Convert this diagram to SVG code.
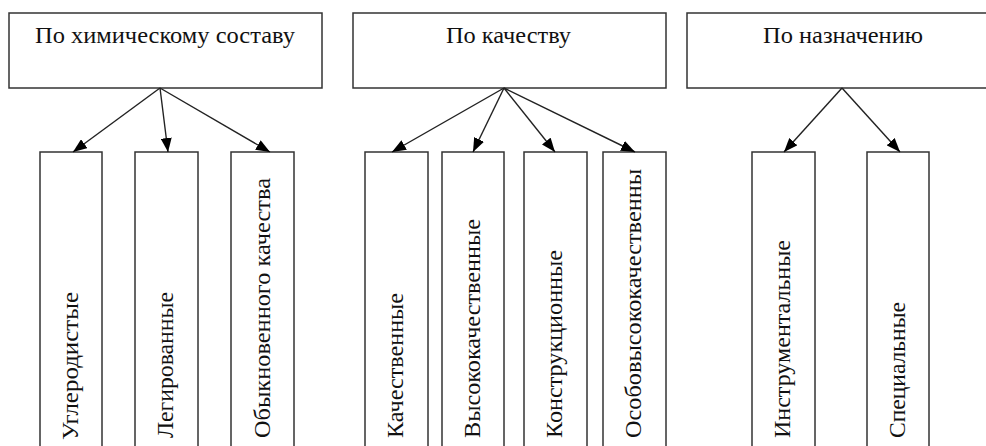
<svg xmlns="http://www.w3.org/2000/svg" width="986" height="446" viewBox="0 0 986 446">
<defs>
<style>
.box{fill:#fff;stroke:#333;stroke-width:1.5}
.t{font-family:"Liberation Serif","Times New Roman",serif;font-size:24px;fill:#111}
.c{stroke:#222;stroke-width:1.4;fill:none;marker-end:url(#ah)}
</style>
<marker id="ah" viewBox="0 0 14 11" refX="14" refY="5.5" markerWidth="14" markerHeight="11" markerUnits="userSpaceOnUse" orient="auto">
<path d="M0,0 L14,5.5 L0,11 z" fill="#000"/>
</marker>
</defs>
<rect width="986" height="446" fill="#fff"/>
<g id="n1"><rect class="box" x="9" y="13" width="313" height="75"/><text class="t" x="35" y="43" textLength="260" lengthAdjust="spacingAndGlyphs">По химическому составу</text></g>
<g id="n2"><rect class="box" x="353" y="13" width="313" height="75"/><text class="t" x="446" y="43" textLength="125" lengthAdjust="spacingAndGlyphs">По качеству</text></g>
<g id="n3"><rect class="box" x="687" y="13" width="312" height="75"/><text class="t" x="763" y="43" textLength="160" lengthAdjust="spacingAndGlyphs">По назначению</text></g>

<g id="c1"><rect class="box" x="40" y="152" width="62" height="300"/><text class="t" transform="translate(78,440) rotate(-90)" textLength="148" lengthAdjust="spacingAndGlyphs">Углеродистые</text></g>
<g id="c2"><rect class="box" x="135" y="152" width="63" height="300"/><text class="t" transform="translate(173,438) rotate(-90)" textLength="146" lengthAdjust="spacingAndGlyphs">Легированные</text></g>
<g id="c3"><rect class="box" x="231" y="152" width="63" height="300"/><text class="t" transform="translate(270,438) rotate(-90)" textLength="260" lengthAdjust="spacingAndGlyphs">Обыкновенного качества</text></g>
<g id="c4"><rect class="box" x="365" y="152" width="63" height="300"/><text class="t" transform="translate(403,438) rotate(-90)" textLength="145" lengthAdjust="spacingAndGlyphs">Качественные</text></g>
<g id="c5"><rect class="box" x="442" y="152" width="62" height="300"/><text class="t" transform="translate(480,438) rotate(-90)" textLength="219" lengthAdjust="spacingAndGlyphs">Высококачественные</text></g>
<g id="c6"><rect class="box" x="524" y="152" width="63" height="300"/><text class="t" transform="translate(562,438) rotate(-90)" textLength="188" lengthAdjust="spacingAndGlyphs">Конструкционные</text></g>
<g id="c7"><rect class="box" x="603" y="152" width="63" height="300"/><text class="t" transform="translate(641,438) rotate(-90)" textLength="269" lengthAdjust="spacingAndGlyphs">Особовысококачественны</text></g>
<g id="c8"><rect class="box" x="752" y="152" width="63" height="300"/><text class="t" transform="translate(790,438) rotate(-90)" textLength="198" lengthAdjust="spacingAndGlyphs">Инструментальные</text></g>
<g id="c9"><rect class="box" x="867" y="152" width="62" height="300"/><text class="t" transform="translate(905,438) rotate(-90)" textLength="136" lengthAdjust="spacingAndGlyphs">Специальные</text></g>

<g id="connectors">
<line class="c" x1="160" y1="88" x2="73" y2="152"/>
<line class="c" x1="160" y1="88" x2="168" y2="152"/>
<line class="c" x1="160" y1="88" x2="270" y2="152"/>
<line class="c" x1="504" y1="88" x2="392" y2="152"/>
<line class="c" x1="504" y1="88" x2="473" y2="152"/>
<line class="c" x1="504" y1="88" x2="555" y2="152"/>
<line class="c" x1="504" y1="88" x2="635" y2="152"/>
<line class="c" x1="842" y1="88" x2="784" y2="152"/>
<line class="c" x1="842" y1="88" x2="900" y2="152"/>
</g>
</svg>
